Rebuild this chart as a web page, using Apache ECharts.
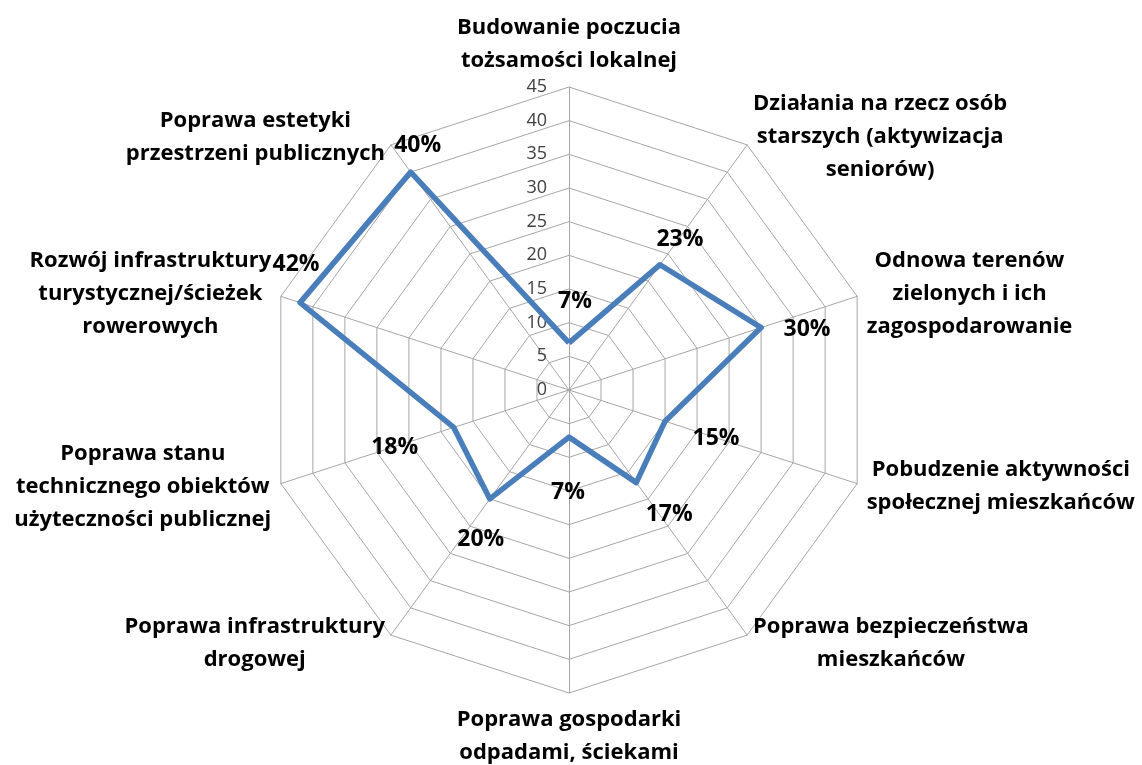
<!DOCTYPE html>
<html>
<head>
<meta charset="utf-8">
<script src="https://cdn.jsdelivr.net/npm/echarts@6/dist/echarts.min.js"></script>
<style>
html, body { margin: 0; padding: 0; background: #fff; }
#chart { width: 1142px; height: 765px; }
</style>
</head>
<body>
<div id="chart"></div>
<script>
// kategorie zgodnie z ruchem wskazówek zegara, od góry
var categories = [
    'Budowanie poczucia\ntożsamości lokalnej',
    'Działania na rzecz osób\nstarszych (aktywizacja\nseniorów)',
    'Odnowa terenów\nzielonych i ich\nzagospodarowanie',
    'Pobudzenie aktywności\nspołecznej mieszkańców',
    'Poprawa bezpieczeństwa\nmieszkańców',
    'Poprawa gospodarki\nodpadami, ściekami',
    'Poprawa infrastruktury\ndrogowej',
    'Poprawa stanu\ntechnicznego obiektów\nużyteczności publicznej',
    'Rozwój infrastruktury\nturystycznej/ścieżek\nrowerowych',
    'Poprawa estetyki\nprzestrzeni publicznych'
];
var values = [7, 23, 30, 15, 17, 7, 20, 18, 42, 40];
var axisMax = 45;
var axisSplit = 9;

// przesunięcia etykiet danych względem punktu (jak w Excelu)
var labelOffsets = [
    [6, -41], [20, -25], [46, 2], [51, 17], [33, 32],
    [-1, 55], [-9, 41], [-59, 20], [-4, -38], [7, -27]
];

var font = '"Open Sans", Lato, sans-serif';
var gridColor = '#a6a6a6';

// echarts rysuje radar przeciwnie do wskazówek zegara, więc odwracamy kolejność
var order = [0];
for (var i = categories.length - 1; i > 0; i--) order.push(i);

var indicator = order.map(function (k, idx) {
    var item = {name: categories[k], max: axisMax, min: 0};
    if (idx === 0) {
        item.axisLabel = {show: true};
    }
    return item;
});
var seriesValues = order.map(function (k) { return values[k]; });

// osobny element danych dla każdej etykiety, żeby ustawić jej pozycję
var labelData = order.map(function (k, idx) {
    return {
        value: order.map(function (j, jdx) { return jdx === idx ? values[k] : 0; }),
        label: {position: labelOffsets[k]}
    };
});

var chart = echarts.init(document.getElementById('chart'));
chart.setOption({
    animation: false,
    radar: {
        center: [569, 390],
        radius: 303,
        startAngle: 90,
        shape: 'polygon',
        splitNumber: axisSplit,
        indicator: indicator,
        nameGap: 10,
        axisName: {
            color: '#000',
            formatter: function (name) {
                return name.split('\n').map(function (l) { return '{n|' + l + '}'; }).join('\n');
            },
            rich: {
                n: {
                    align: 'center',
                    fontFamily: font,
                    fontSize: 22,
                    fontWeight: 'bold',
                    lineHeight: 33,
                    color: '#000'
                }
            }
        },
        axisLabel: {
            show: false,
            color: '#404040',
            fontFamily: font,
            fontSize: 18,
            margin: 22,
            padding: [5, 0, 0, 0]
        },
        axisLine: {lineStyle: {color: gridColor, width: 1}},
        splitLine: {lineStyle: {color: gridColor, width: 1}},
        splitArea: {show: false},
        axisTick: {show: false}
    },
    series: [{
        type: 'radar',
        symbol: 'none',
        lineStyle: {color: '#4a7ebb', width: 5.5},
        data: [{value: seriesValues}]
    }, {
        type: 'radar',
        symbol: 'circle',
        symbolSize: 0.1,
        itemStyle: {color: '#000'},
        lineStyle: {width: 0, opacity: 0},
        silent: true,
        label: {
            show: true,
            align: 'center',
            verticalAlign: 'middle',
            color: '#000',
            fontFamily: font,
            fontSize: 23,
            fontWeight: 'bold',
            formatter: function (p) { return p.value ? p.value + '%' : ''; }
        },
        data: labelData
    }]
});
</script>
</body>
</html>
